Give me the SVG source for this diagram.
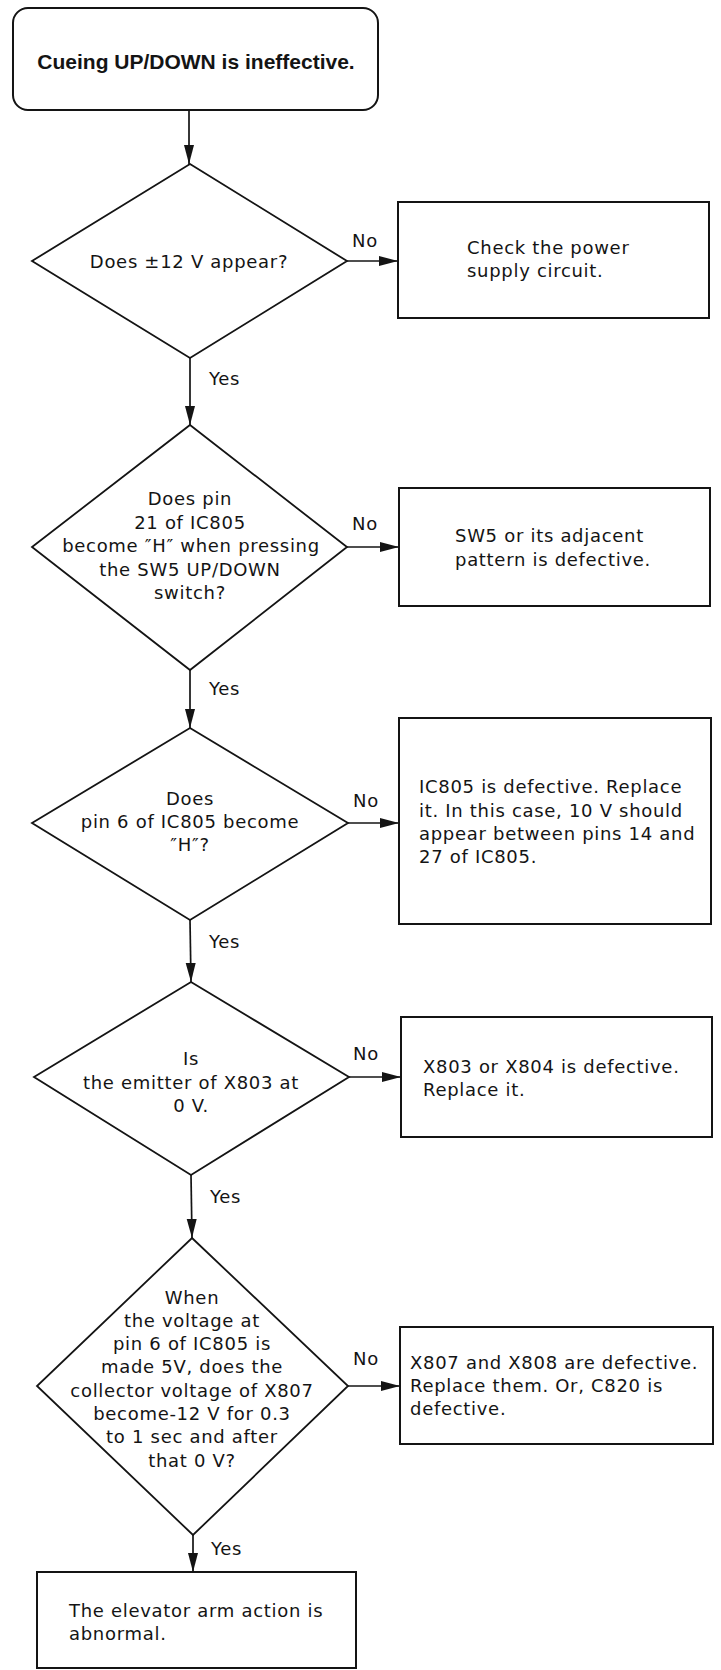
<svg xmlns="http://www.w3.org/2000/svg" width="721" height="1670" viewBox="0 0 721 1670">
<style>
.t{font-family:"DejaVu Sans","Liberation Sans",sans-serif;font-size:18px;letter-spacing:0.7px;fill:#141414}
.c{text-anchor:middle}
.title{font-family:"Liberation Sans",Arial,sans-serif;font-size:21px;font-weight:bold;fill:#141414;text-anchor:middle}
.box{fill:none;stroke:#141414;stroke-width:2}
.dia{fill:none;stroke:#141414;stroke-width:1.8;stroke-linejoin:miter}
.ln{fill:none;stroke:#141414;stroke-width:1.7}
</style>
<defs>
<marker id="ah" markerUnits="userSpaceOnUse" markerWidth="20" markerHeight="11" refX="19" refY="5.5" orient="auto">
<path d="M0,0.5 L19,5.5 L0,10.5 z" fill="#141414"/>
</marker>
</defs>
<rect width="721" height="1670" fill="#ffffff"/>

<g id="start">
<rect class="box" x="13" y="8" width="365" height="102" rx="15" ry="15"/>
<text class="title" x="196" y="69">Cueing UP/DOWN is ineffective.</text>
</g>

<g id="d1">
<polygon class="dia" points="190,164 347,261 190,358 32,261"/>
<text class="t c" x="189" y="268">Does ±12 V appear?</text>
</g>
<g id="b1">
<rect class="box" x="398" y="202" width="311" height="116"/>
<text class="t" x="467" y="254">Check the power</text>
<text class="t" x="467" y="277">supply circuit.</text>
</g>

<g id="d2">
<polygon class="dia" points="190,425 347,547 190,670 32,547"/>
<text class="t c" x="190" y="505">Does pin</text>
<text class="t c" x="190" y="528.5">21 of IC805</text>
<text class="t c" x="191" y="552">become ″H″ when pressing</text>
<text class="t c" x="190" y="575.5">the SW5 UP/DOWN</text>
<text class="t c" x="190" y="599">switch?</text>
</g>
<g id="b2">
<rect class="box" x="399" y="488" width="311" height="118"/>
<text class="t" x="455" y="542">SW5 or its adjacent</text>
<text class="t" x="455" y="566">pattern is defective.</text>
</g>

<g id="d3">
<polygon class="dia" points="190,728 348,823 190,920 32,823"/>
<text class="t c" x="190" y="805">Does</text>
<text class="t c" x="190" y="828">pin 6 of IC805 become</text>
<text class="t c" x="190" y="851">″H″?</text>
</g>
<g id="b3">
<rect class="box" x="399" y="718" width="312" height="206"/>
<text class="t" x="419" y="793">IC805 is defective. Replace</text>
<text class="t" x="419" y="816.5">it. In this case, 10 V should</text>
<text class="t" x="419" y="840">appear between pins 14 and</text>
<text class="t" x="419" y="863">27 of IC805.</text>
</g>

<g id="d4">
<polygon class="dia" points="191,982 349,1077 191,1175 34,1077"/>
<text class="t c" x="191" y="1065">Is</text>
<text class="t c" x="191" y="1089">the emitter of X803 at</text>
<text class="t c" x="191" y="1112">0 V.</text>
</g>
<g id="b4">
<rect class="box" x="401" y="1017" width="311" height="120"/>
<text class="t" x="423" y="1073">X803 or X804 is defective.</text>
<text class="t" x="423" y="1096">Replace it.</text>
</g>

<g id="d5">
<polygon class="dia" points="192,1238 348,1386 193,1535 37,1386"/>
<text class="t c" x="192" y="1304">When</text>
<text class="t c" x="192" y="1327">the voltage at</text>
<text class="t c" x="192" y="1350">pin 6 of IC805 is</text>
<text class="t c" x="192" y="1373">made 5V, does the</text>
<text class="t c" x="192" y="1397">collector voltage of X807</text>
<text class="t c" x="192" y="1420">become-12 V for 0.3</text>
<text class="t c" x="192" y="1443">to 1 sec and after</text>
<text class="t c" x="192" y="1467">that 0 V?</text>
</g>
<g id="b5">
<rect class="box" x="400" y="1327" width="313" height="117"/>
<text class="t" x="410" y="1369">X807 and X808 are defective.</text>
<text class="t" x="410" y="1392">Replace them. Or, C820 is</text>
<text class="t" x="410" y="1415">defective.</text>
</g>

<g id="end">
<rect class="box" x="37" y="1572" width="319" height="96"/>
<text class="t" x="69" y="1617">The elevator arm action is</text>
<text class="t" x="69" y="1640">abnormal.</text>
</g>

<g id="connectors">
<line class="ln" x1="189" y1="110" x2="189" y2="164" marker-end="url(#ah)"/>
<line class="ln" x1="347" y1="261" x2="398" y2="261" marker-end="url(#ah)"/>
<line class="ln" x1="190" y1="358" x2="190" y2="425" marker-end="url(#ah)"/>
<line class="ln" x1="347" y1="547" x2="399" y2="547" marker-end="url(#ah)"/>
<line class="ln" x1="190" y1="670" x2="190" y2="728" marker-end="url(#ah)"/>
<line class="ln" x1="348" y1="823" x2="399" y2="823" marker-end="url(#ah)"/>
<line class="ln" x1="190" y1="920" x2="191" y2="982" marker-end="url(#ah)"/>
<line class="ln" x1="349" y1="1077" x2="401" y2="1077" marker-end="url(#ah)"/>
<line class="ln" x1="191" y1="1175" x2="192" y2="1238" marker-end="url(#ah)"/>
<line class="ln" x1="348" y1="1386" x2="400" y2="1386" marker-end="url(#ah)"/>
<line class="ln" x1="193" y1="1535" x2="193" y2="1572" marker-end="url(#ah)"/>
<text class="t" x="352" y="247">No</text>
<text class="t" x="209" y="385">Yes</text>
<text class="t" x="352" y="530">No</text>
<text class="t" x="209" y="695">Yes</text>
<text class="t" x="353" y="807">No</text>
<text class="t" x="209" y="948">Yes</text>
<text class="t" x="353" y="1060">No</text>
<text class="t" x="210" y="1203">Yes</text>
<text class="t" x="353" y="1365">No</text>
<text class="t" x="211" y="1555">Yes</text>
</g>
</svg>
